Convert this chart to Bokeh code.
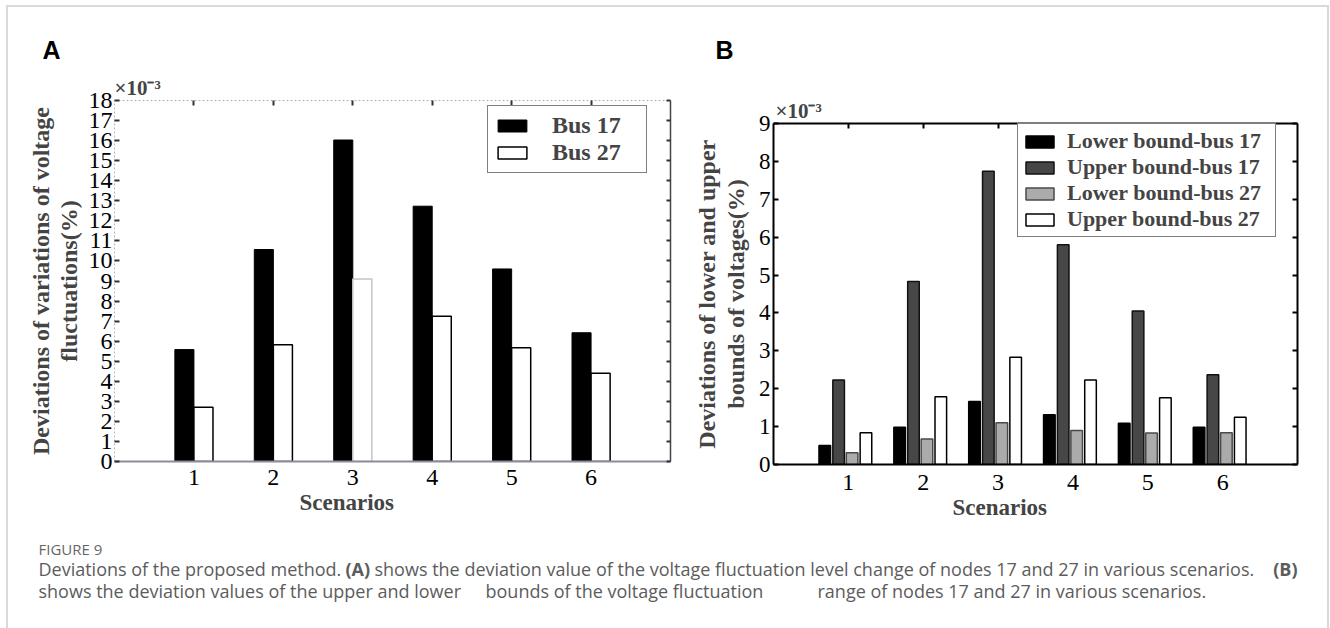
from bokeh.plotting import figure
from bokeh.models import (Range1d, FixedTicker, LinearAxis, Title, Legend,
                          LegendItem, ColumnDataSource, Spacer)
from bokeh.layouts import column, row
from bokeh.transform import dodge
from bokeh.core.properties import value
from bokeh.embed import file_html
from bokeh.resources import INLINE

# ---------------- data (values in units of 1e-3 %) ----------------
scenarios = [1, 2, 3, 4, 5, 6]
bus17_variation = [5.58, 10.57, 16.03, 12.73, 9.60, 6.42]
bus27_variation = [2.71, 5.82, 9.10, 7.24, 5.67, 4.40]
lower_bound_bus17 = [0.50, 0.98, 1.66, 1.31, 1.09, 0.98]
upper_bound_bus17 = [2.23, 4.83, 7.74, 5.80, 4.05, 2.37]
lower_bound_bus27 = [0.31, 0.67, 1.10, 0.90, 0.83, 0.84]
upper_bound_bus27 = [0.84, 1.79, 2.83, 2.23, 1.76, 1.25]
y_ticks_A = list(range(0, 19))
y_ticks_B = list(range(0, 10))
legend_A = ["Bus 17", "Bus 27"]
legend_B = ["Lower bound-bus 17", "Upper bound-bus 17",
            "Lower bound-bus 27", "Upper bound-bus 27"]

SERIF = "Liberation Serif"
W = 1319


def add_axis(p, ticks, side, labels=True, line_color="black", dash="solid",
             lw=1.0, tick_in=5, tick_color="black", size="24px", standoff=4):
    ax = LinearAxis(ticker=FixedTicker(ticks=ticks, minor_ticks=[]))
    ax.axis_line_color = line_color
    ax.axis_line_dash = dash
    ax.axis_line_width = lw
    ax.major_tick_in = tick_in
    ax.major_tick_out = 0
    ax.major_tick_line_color = tick_color
    ax.major_tick_line_width = 2
    ax.minor_tick_line_color = None
    ax.major_label_text_font = SERIF
    ax.major_label_text_font_size = size
    ax.major_label_text_color = "black"
    if labels:
        ax.major_label_standoff = standoff
    else:
        ax.major_label_overrides = {t: "" for t in ticks}
        ax.major_label_standoff = 0
    p.add_layout(ax, side)
    return ax


def base_fig(w, h, xr, yr, **kw):
    p = figure(width=w, height=h, x_range=xr, y_range=yr, output_backend="svg",
               toolbar_location=None, x_axis_location=None, y_axis_location=None,
               title=None, **kw)
    p.outline_line_color = None
    p.background_fill_color = "white"
    p.border_fill_color = "white"
    p.grid.visible = False
    return p


def style_legend(leg, size, gw, gh, standoff, padding, label_width):
    leg.label_text_font = SERIF
    leg.label_text_font_style = "bold"
    leg.label_text_font_size = size
    leg.glyph_width = gw
    leg.glyph_height = gh
    leg.label_standoff = standoff
    leg.label_height = 14
    leg.label_width = label_width
    leg.padding = padding
    leg.spacing = 0
    leg.margin = 0
    leg.border_line_color = "black"
    leg.border_line_width = 1.5
    leg.background_fill_alpha = 1.0


TOP, BOT = 33, 66

# ---------------- panel A ----------------
srcA = ColumnDataSource(dict(s=scenarios, b17=bus17_variation, b27=bus27_variation,
                             e27=["black", "black", "#c4c4c4", "black", "black", "black"]))
pA = base_fig(682, TOP + 361 + BOT, Range1d(0, 7), Range1d(0, 18),
              min_border_left=106, min_border_right=20,
              min_border_top=TOP, min_border_bottom=BOT)

axL = add_axis(pA, y_ticks_A, "left", line_color="#b4b4b4", dash="2 2", tick_in=5,
               tick_color="#333333", size="24px", standoff=2)
axL.axis_label = "Deviations of variations of voltage\nfluctuations(%)"
axL.axis_label_text_font = SERIF
axL.axis_label_text_font_style = "bold"
axL.axis_label_text_font_size = "24px"
axL.axis_label_standoff = 4
axL.axis_label_text_line_height = 1.05
add_axis(pA, scenarios, "below", line_color="#8c8c9a", lw=2, tick_in=0, size="24px", standoff=8)
add_axis(pA, scenarios, "above", labels=False, line_color="#b4b4b4", dash="2 2",
         tick_in=5, tick_color="#333333")
add_axis(pA, y_ticks_A, "right", labels=False, line_color="#444444", lw=1.5,
         tick_in=4, tick_color="#333333")
pA.add_layout(Title(text="×10⁻³", align="left", offset=0, standoff=1,
                    text_font=SERIF, text_font_size="21px", text_font_style="bold"), "above")
pA.add_layout(Title(text="Scenarios", align="left", offset=185, standoff=0,
                    text_font=SERIF, text_font_size="23px", text_font_style="bold"), "below")

rA1 = pA.vbar(x=dodge("s", -0.12), top="b17", bottom=0, width=0.24, source=srcA,
              fill_color="black", line_color="black", line_width=1)
rA2 = pA.vbar(x=dodge("s", 0.12), top="b27", bottom=0, width=0.24, source=srcA,
              fill_color="white", line_color="e27", line_width=1.5)
legA = Legend(items=[LegendItem(label=legend_A[0], renderers=[rA1]),
                     LegendItem(label=legend_A[1], renderers=[rA2])],
              location=(373, 288))
style_legend(legA, "24px", 36, 15, 22, 6, 88)
pA.add_layout(legA, "center")

# ---------------- panel B ----------------
srcB = ColumnDataSource(dict(s=scenarios, l17=lower_bound_bus17, u17=upper_bound_bus17,
                             l27=lower_bound_bus27, u27=upper_bound_bus27))
pB = base_fig(637, TOP + 341 + BOT, Range1d(0, 7), Range1d(0, 9),
              min_border_left=80, min_border_right=30,
              min_border_top=TOP, min_border_bottom=BOT)
axLB = add_axis(pB, y_ticks_B, "left", lw=2, tick_in=5, size="23px", standoff=3)
axLB.axis_label = "Deviations of lower and upper\nbounds of voltages(%)"
axLB.axis_label_text_font = SERIF
axLB.axis_label_text_font_style = "bold"
axLB.axis_label_text_font_size = "24px"
axLB.axis_label_standoff = 7
axLB.axis_label_text_line_height = 1.12
add_axis(pB, scenarios, "below", lw=2, tick_in=0, size="24px", standoff=10)
add_axis(pB, scenarios, "above", labels=False, lw=2, tick_in=5)
add_axis(pB, y_ticks_B, "right", labels=False, lw=2, tick_in=5)
pB.add_layout(Title(text="×10⁻³", align="left", offset=2, standoff=1,
                    text_font=SERIF, text_font_size="21px", text_font_style="bold"), "above")
pB.add_layout(Title(text="Scenarios", align="left", offset=179, standoff=0,
                    text_font=SERIF, text_font_size="23px", text_font_style="bold"), "below")

wB = 0.155
rB1 = pB.vbar(x=dodge("s", -0.315), top="l17", width=wB, source=srcB,
              fill_color="black", line_color="black", line_width=1.5)
rB2 = pB.vbar(x=dodge("s", -0.13), top="u17", width=wB, source=srcB,
              fill_color="#474747", line_color="#111111", line_width=1.5)
rB3 = pB.vbar(x=dodge("s", 0.05), top="l27", width=wB, source=srcB,
              fill_color="#ababab", line_color="#4a4a4a", line_width=1.5)
rB4 = pB.vbar(x=dodge("s", 0.235), top="u27", width=wB, source=srcB,
              fill_color="white", line_color="black", line_width=1.5)
legB = Legend(items=[LegendItem(label=legend_B[i], renderers=[r])
                     for i, r in enumerate([rB1, rB2, rB3, rB4])],
              location=(244, 227))
style_legend(legB, "22px", 35, 15, 10, 4, 204)
pB.add_layout(legB, "center")

# ---------------- panel letters strip ----------------
pS = base_fig(W, 60, Range1d(0, W), Range1d(60, 0), min_border=0)
pS.text(x=[34, 707], y=[42, 42], text=["A", "B"], text_font=value("Liberation Sans"),
        text_font_style="bold", text_font_size="25px", text_baseline="middle",
        text_align="left", text_color="black")

# ---------------- caption ----------------
CAP = "Open Sans"
CAPC = "#5c5c5c"
FS = "18px"
pC = base_fig(W, 98, Range1d(0, W), Range1d(98, 0), min_border=0)
pC.text(x=[30], y=[18], text=["FIGURE 9"], text_font=value(CAP), text_font_size="15px",
        text_baseline="middle", text_color="#666666")
cap_x = [30, 337, 366]
cap_t = ["Deviations of the proposed method.", "(A)",
         "shows the deviation value of the voltage fluctuation level change of nodes 17 and 27 in various scenarios."]
cap_style = ["normal", "bold", "normal"]
for x, t, s in zip(cap_x, cap_t, cap_style):
    pC.text(x=[x], y=[38], text=[t], text_font=value(CAP), text_font_size=FS,
            text_font_style=s, text_baseline="middle", text_color=CAPC)
pC.text(x=[1289], y=[38], text=["(B)"], text_font=value(CAP), text_font_size=FS,
        text_font_style="bold", text_baseline="middle", text_align="right", text_color=CAPC)
l2_x = [30, 477, 809]
l2_t = ["shows the deviation values of the upper and lower",
        "bounds of the voltage fluctuation",
        "range of nodes 17 and 27 in various scenarios."]
for x, t in zip(l2_x, l2_t):
    pC.text(x=[x], y=[60], text=[t], text_font=value(CAP), text_font_size=FS,
            text_baseline="middle", text_color=CAPC)

panels = row(pA, column(Spacer(width=637, height=23), pB))
root = column(pS, panels, pC, margin=(5, 0, 0, 6),
              styles={"border-top": "2px solid #d9d9d9",
                      "border-left": "2px solid #d9d9d9",
                      "border-right": "2px solid #d9d9d9"})

open("out.html", "w").write(file_html(root, INLINE, title="Figure 9"))
